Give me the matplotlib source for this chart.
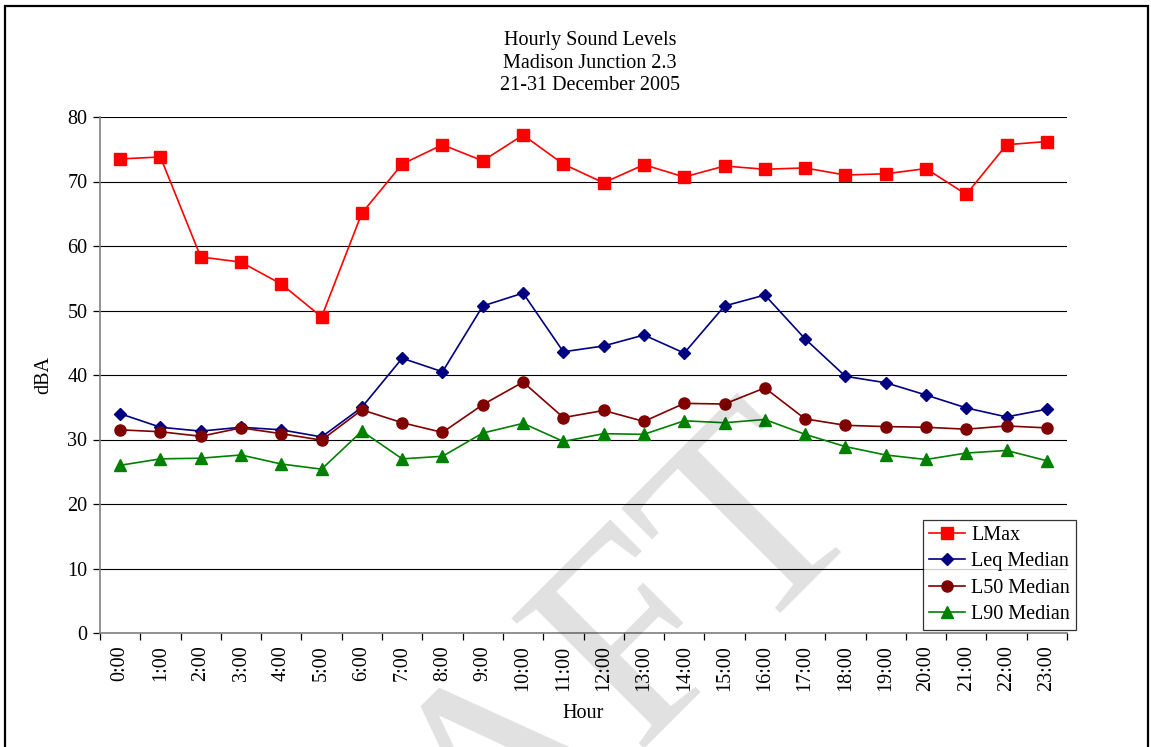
import matplotlib
matplotlib.use("Agg")
import matplotlib.pyplot as plt
from matplotlib.patches import Rectangle

hours = [f"{h}:00" for h in range(24)]
lmax = [73.5, 73.8, 58.3, 57.5, 54.1, 49.0, 65.1, 72.7, 75.7, 73.2, 77.2, 72.7,
        69.8, 72.6, 70.7, 72.4, 71.9, 72.1, 71.0, 71.2, 72.0, 68.0, 75.7, 76.2]
leq_median = [34.0, 31.9, 31.3, 31.9, 31.5, 30.4, 35.0, 42.6, 40.5, 50.7, 52.7, 43.6,
              44.5, 46.2, 43.4, 50.7, 52.4, 45.6, 39.8, 38.8, 36.9, 34.9, 33.5, 34.7]
l50_median = [31.5, 31.2, 30.5, 31.8, 30.9, 29.9, 34.6, 32.6, 31.1, 35.4, 38.9, 33.4,
              34.5, 32.8, 35.6, 35.5, 38.0, 33.2, 32.2, 32.0, 31.9, 31.6, 32.1, 31.8]
l90_median = [26.0, 27.0, 27.1, 27.6, 26.2, 25.4, 31.3, 27.0, 27.4, 31.0, 32.5, 29.7,
              30.9, 30.8, 32.9, 32.6, 33.1, 30.8, 28.9, 27.6, 26.9, 27.9, 28.3, 26.7]
title_lines = ["Hourly Sound Levels", "Madison Junction 2.3", "21-31 December 2005"]

plt.rcParams["font.family"] = ["Liberation Serif", "DejaVu Serif"]
FS = 14.5

W, H = 1151, 747
fig = plt.figure(figsize=(W / 100, H / 100), dpi=100)
fig.patch.set_facecolor("white")

# plot area in pixel terms
left, right, top, bottom = 100, 1067, 117, 633
ax = fig.add_axes([left / W, 1 - bottom / H, (right - left) / W, (bottom - top) / H])

x = list(range(len(hours)))
series = [
    ("LMax", lmax, "#ff0000", "s", 8.5),
    ("Leq Median", leq_median, "#000080", "D", 6.0),
    ("L50 Median", l50_median, "#800000", "o", 8.0),
    ("L90 Median", l90_median, "#008000", "^", 8.0),
]
for name, vals, col, mk, ms in series:
    ax.plot(x, vals, color=col, marker=mk, markersize=ms, linewidth=1.2,
            markeredgecolor=col, label=name, zorder=3)

ax.set_xlim(-0.5, len(hours) - 0.5)
ax.set_ylim(0, 80)
ax.set_yticks(range(0, 81, 10))
ax.yaxis.grid(True, color="black", linewidth=0.8)
ax.set_axisbelow(True)

# category labels centred, tick marks on category boundaries
ax.set_xticks(x)
ax.set_xticklabels(hours, rotation=90, fontsize=FS)
ax.set_xticks([i - 0.5 for i in range(len(hours) + 1)], minor=True)
ax.tick_params(axis="x", which="major", length=0, pad=9)
ax.tick_params(axis="x", which="minor", length=5, width=0.9, color="black", direction="out")
ax.tick_params(axis="y", length=5, width=0.9, color="black", labelsize=FS, pad=4)

for s in ("top", "right"):
    ax.spines[s].set_visible(False)
for s in ("left", "bottom"):
    ax.spines[s].set_color("#808080")
    ax.spines[s].set_linewidth(1.2)

ax.set_ylabel("dBA", fontsize=FS, labelpad=10)
ax.set_xlabel("Hour", fontsize=FS, labelpad=9)

# three-line heading
for i, line in enumerate(title_lines):
    fig.text(590 / W, 1 - (40 + 23 * i) / H, line, ha="center", va="center",
             fontsize=FS)

leg = ax.legend(loc="lower left", bbox_to_anchor=(923 / W, 1 - 630 / H),
                bbox_transform=fig.transFigure, fontsize=FS, frameon=True,
                fancybox=False, edgecolor="black", borderpad=0.3,
                labelspacing=0.36, handlelength=1.8, handletextpad=0.3,
                borderaxespad=0)
leg.get_frame().set_linewidth(0.9)
leg.set_zorder(5)

# outer page frame
fig.patches.append(Rectangle((5 / W, -0.05), (1148 - 5) / W, 1.05 - 6 / H,
                             transform=fig.transFigure, fill=False,
                             edgecolor="black", linewidth=1.6))

# page watermark
fig.text(492 / W, 1 - 795 / H, "DRAFT", rotation=45, ha="center", va="center",
         fontsize=205, color="black", alpha=0.12, zorder=10,
         rotation_mode="anchor")

fig.savefig("out.png", dpi=100)
